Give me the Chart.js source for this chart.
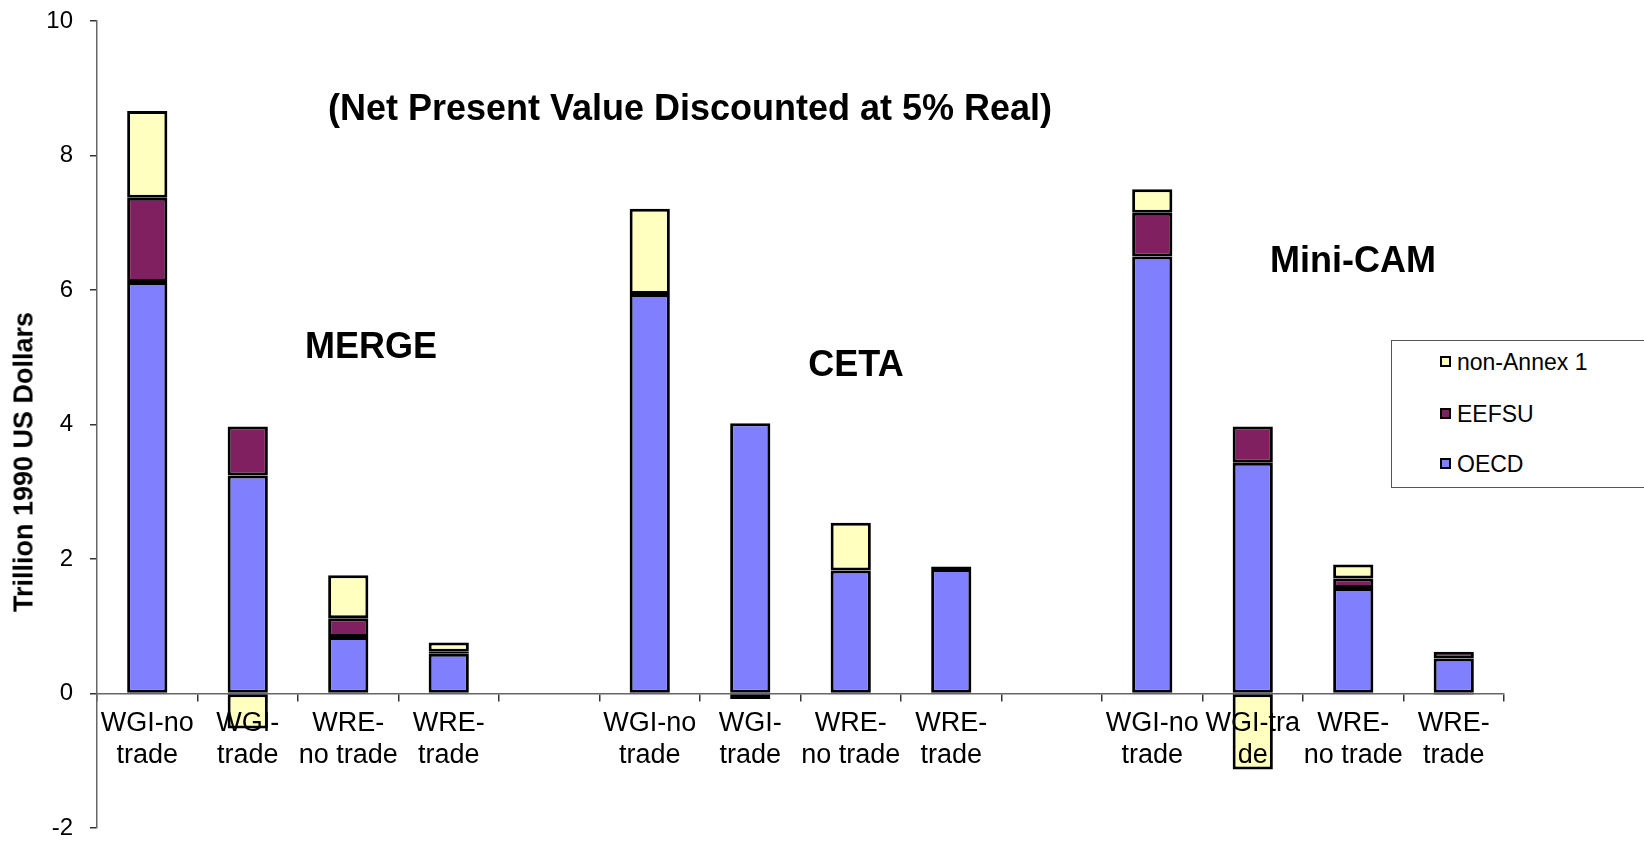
<!DOCTYPE html>
<html>
<head>
<meta charset="utf-8">
<script src="https://cdn.jsdelivr.net/npm/chart.js@4"></script>
<style>
  html, body { margin: 0; padding: 0; background: #fff; overflow: hidden; }
  #wrap { position: relative; width: 1644px; height: 841px; font-family: "Liberation Sans", Arial, sans-serif; }
  .note { position: absolute; transform: translate(-50%, -50%); font-weight: bold; white-space: nowrap; color: #000; }
  #ytitle { position: absolute; left: 24px; top: 462px; transform: translate(-50%, -50%) rotate(-90deg); font-weight: bold; font-size: 27px; white-space: nowrap; }
  #legend { position: absolute; left: 1391px; top: 340px; width: 320px; height: 146px; border: 1px solid #555; background: #fff; }
  .item { position: absolute; left: 48px; font-size: 23px; line-height: 23px; white-space: nowrap; }
  .sw { display: inline-block; width: 7px; height: 7px; border: 2px solid #000; margin-right: 6px; vertical-align: 3px; }
</style>
</head>
<body>
<div id="wrap">
  <canvas id="chart" width="1644" height="841"></canvas>
  <div class="note" style="left:690px; top:108px; font-size:36px;">(Net Present Value Discounted at 5% Real)</div>
  <div class="note" style="left:371px; top:346px; font-size:36px;">MERGE</div>
  <div class="note" style="left:856px; top:364px; font-size:36px;">CETA</div>
  <div class="note" style="left:1353px; top:260px; font-size:36px;">Mini-CAM</div>
  <div id="ytitle">Trillion 1990 US Dollars</div>
  <div id="legend"></div>
</div>
<script>
// x categories (blank slots separate the three models)
const categories = [
    ['WGI-no', 'trade'], ['WGI-', 'trade'], ['WRE-', 'no trade'], ['WRE-', 'trade'],
    '',
    ['WGI-no', 'trade'], ['WGI-', 'trade'], ['WRE-', 'no trade'], ['WRE-', 'trade'],
    '',
    ['WGI-no', 'trade'], ['WGI-tra', 'de'], ['WRE-', 'no trade'], ['WRE-', 'trade']
];

// values in trillion 1990 US dollars: MERGE | CETA | Mini-CAM
const oecd      = [6.12, 3.24, 0.84, 0.59, null, 5.94, 4.02, 1.83, 1.85, null, 6.50, 3.43, 1.57, 0.52];
const eefsu     = [1.25, 0.73, 0.28, 0.03, null, null, null, null, null, null, 0.65, 0.54, 0.14, 0.10];
const nonAnnex1 = [1.29, -0.52, 0.64, 0.14, null, 1.27, -0.08, 0.71, 0.04, null, 0.35, -1.13, 0.21, -0.02];

const yTicks = [-2, 0, 2, 4, 6, 8, 10];

const colors = {
    oecd: '#8080FF',
    eefsu: '#802060',
    nonAnnex1: '#FFFFC0'
};

const datasets = [
    { label: 'OECD', data: oecd, backgroundColor: colors.oecd },
    { label: 'EEFSU', data: eefsu, backgroundColor: colors.eefsu },
    { label: 'non-Annex 1', data: nonAnnex1, backgroundColor: colors.nonAnnex1 }
].map(ds => Object.assign(ds, {
    borderColor: '#000',
    borderWidth: 3,
    borderSkipped: false,
    barPercentage: 0.4,
    categoryPercentage: 1.0
}));

// Build legend (reverse of stacking order, like the original)
const legend = document.getElementById('legend');
const legendTops = [10, 62, 112];
datasets.slice().reverse().forEach((ds, i) => {
    const item = document.createElement('div');
    item.className = 'item';
    item.style.top = legendTops[i] + 'px';
    item.innerHTML = '<span class="sw" style="background:' + ds.backgroundColor + '"></span>' + ds.label;
    legend.appendChild(item);
});

const ctx = document.getElementById('chart').getContext('2d');
new Chart(ctx, {
    type: 'bar',
    data: { labels: categories, datasets: datasets },
    options: {
        responsive: false,
        animation: false,
        layout: { padding: { left: 0, top: 21, right: 140, bottom: 13 } },
        plugins: { legend: { display: false }, tooltip: { enabled: false } },
        scales: {
            x: {
                stacked: true,
                position: { y: 0 },
                offset: true,
                grid: { offset: true, drawOnChartArea: false, drawTicks: true, tickLength: 7, color: '#333', lineWidth: 1.5 },
                border: { display: true, color: '#666', width: 1.5 },
                ticks: {
                    z: 1, // labels sit in front of the negative bars, as in the original
                    color: '#000',
                    font: { family: '"Liberation Sans", Arial, sans-serif', size: 27, lineHeight: 1.15 },
                    padding: 8,
                    maxRotation: 0,
                    autoSkip: false
                }
            },
            y: {
                stacked: true,
                min: -2,
                max: 10,
                afterFit: function(scale) {
                    scale.width = 97;
                    // keep tick labels from pushing the plot area in
                    scale.paddingTop = 0;
                    scale.paddingBottom = 0;
                },
                afterBuildTicks: function(scale) { scale.ticks = yTicks.map(v => ({ value: v })); },
                grid: { drawOnChartArea: false, drawTicks: true, tickLength: 7, color: '#333', lineWidth: 1.5 },
                border: { display: true, color: '#666', width: 1.5 },
                ticks: {
                    color: '#000',
                    font: { family: '"Liberation Sans", Arial, sans-serif', size: 24 },
                    padding: 17
                }
            }
        }
    }
});
</script>
</body>
</html>
